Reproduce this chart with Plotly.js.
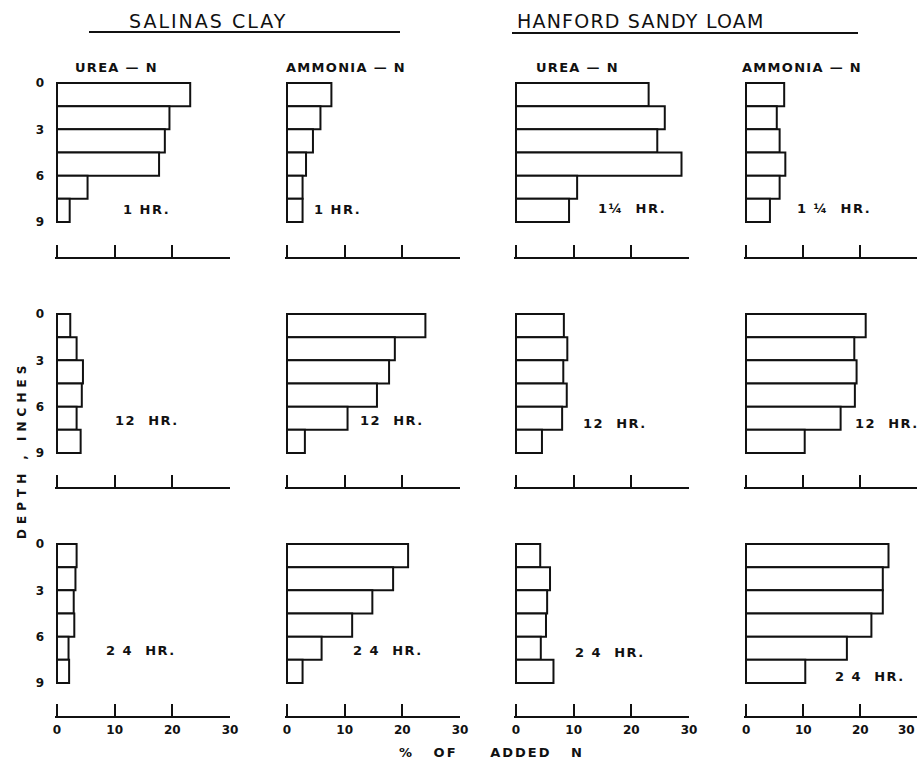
<!DOCTYPE html>
<html><head><meta charset="utf-8">
<script src="https://cdn.plot.ly/plotly-3.0.1.min.js"></script>
<style>html,body{margin:0;padding:0;background:#fff;overflow:hidden}</style>
</head><body><div id="chart" style="width:919px;height:762px"></div>
<script>
// ---- data ----
const depthMid = [0.75, 2.25, 3.75, 5.25, 6.75, 8.25];   // 1.5-inch depth layers, 0-9 in
const depthTicks = [0, 3, 6, 9];
const pctTicks = [0, 10, 20, 30];
const soils = ['SALINAS CLAY', 'HANFORD SANDY LOAM'];
const forms = ['UREA — N', 'AMMONIA — N', 'UREA — N', 'AMMONIA — N'];
const timesRow1 = ['1 HR.', '1 HR.', '1¼  HR.', '1 ¼  HR.'];
const timesRow2 = ['12  HR.', '12  HR.', '12  HR.', '12  HR.'];
const timesRow3 = ['2 4  HR.', '2 4  HR.', '2 4  HR.', '2 4  HR.'];

const salinasUrea1h     = [23.1, 19.5, 18.7, 17.7, 5.3, 2.2];
const salinasAmmonia1h  = [7.7, 5.8, 4.5, 3.3, 2.7, 2.7];
const hanfordUrea1h     = [23.0, 25.8, 24.5, 28.7, 10.6, 9.2];
const hanfordAmmonia1h  = [6.7, 5.4, 5.9, 6.9, 5.9, 4.2];
const salinasUrea12h    = [2.3, 3.4, 4.5, 4.3, 3.4, 4.1];
const salinasAmmonia12h = [24.0, 18.7, 17.7, 15.6, 10.5, 3.1];
const hanfordUrea12h    = [8.3, 8.9, 8.2, 8.8, 8.0, 4.5];
const hanfordAmmonia12h = [21.0, 19.0, 19.4, 19.1, 16.6, 10.3];
const salinasUrea24h    = [3.4, 3.2, 2.9, 3.0, 2.0, 2.1];
const salinasAmmonia24h = [21.0, 18.4, 14.8, 11.3, 6.0, 2.7];
const hanfordUrea24h    = [4.2, 5.9, 5.4, 5.2, 4.3, 6.5];
const hanfordAmmonia24h = [25.0, 24.0, 24.0, 22.0, 17.7, 10.4];

const panels = [
  [salinasUrea1h, salinasAmmonia1h, hanfordUrea1h, hanfordAmmonia1h],
  [salinasUrea12h, salinasAmmonia12h, hanfordUrea12h, hanfordAmmonia12h],
  [salinasUrea24h, salinasAmmonia24h, hanfordUrea24h, hanfordAmmonia24h]
];
const timeLabels = [timesRow1, timesRow2, timesRow3];

// ---- layout geometry (pixels) ----
const W = 919, H = 762;
const colLeft = [57, 287, 516, 746], colRight = [230, 460, 689, 917];
const rowTop = [83, 314, 544], rowNine = [222, 453, 683], rowAxis = [257, 487, 716];
const timePos = [
  [[146, 210], [337, 210], [632, 208], [834, 208]],
  [[147, 420], [392, 420], [615, 423], [887, 423]],
  [[141, 650], [388, 650], [610, 652], [870, 676]]
];
const formPos = [116, 346, 577, 802];

const ink = '#111';
const FONT = 'DejaVu Sans, Liberation Sans, sans-serif';
const TICKFONT = {family: FONT, size: 12, weight: 'bold', color: ink};
const sp = (t, ls) => '<span style="letter-spacing:' + ls + 'px">' + t.replace(/ /g, '\u00a0') + '</span>';

const data = [];
const layout = {
  width: W, height: H,
  margin: {l: 0, r: 0, t: 0, b: 0},
  paper_bgcolor: '#fff', plot_bgcolor: 'rgba(0,0,0,0)',
  showlegend: false,
  font: {family: FONT, color: ink},
  annotations: [], shapes: []
};

for (let r = 0; r < 3; r++) {
  const s = (rowNine[r] - rowTop[r]) / 9;        // px per inch
  for (let c = 0; c < 4; c++) {
    const n = r * 4 + c + 1;
    const xs = 'x' + (n === 1 ? '' : n), ys = 'y' + (n === 1 ? '' : n);
    const pxPerPct = (colRight[c] - colLeft[c]) / 30;
    const padL = 2;
    const lastPanel = (r === 2 && c === 3);
    data.push({
      type: 'bar', orientation: 'h',
      x: panels[r][c], y: depthMid, width: 1.5,
      marker: {color: '#fff', line: {color: ink, width: 2}},
      xaxis: xs, yaxis: ys, hoverinfo: 'skip'
    });
    layout['xaxis' + (n === 1 ? '' : n)] = {
      domain: [(colLeft[c] - padL) / W, colRight[c] / W],
      range: [-padL / pxPerPct, 30], anchor: ys,
      showline: true, linewidth: 2, linecolor: ink,
      ticks: 'inside', ticklen: 12, tickwidth: 2, tickcolor: ink,
      tickvals: pctTicks, showticklabels: r === 2 && !lastPanel,
      tickfont: TICKFONT,
      ticklabelstandoff: 2,
      showgrid: false, zeroline: false, fixedrange: true
    };
    if (lastPanel) {
      // tick labels of the right-most axis, kept inside the page edge
      pctTicks.forEach((v, k) => layout.annotations.push({
        xref: xs, yref: 'paper', x: v, y: 1 - 730 / H,
        xanchor: k === pctTicks.length - 1 ? 'right' : 'center', yanchor: 'middle',
        showarrow: false, text: String(v), font: TICKFONT
      }));
    }
    const padT = 3;
    layout['yaxis' + (n === 1 ? '' : n)] = {
      domain: [1 - rowAxis[r] / H, 1 - (rowTop[r] - padT) / H],
      range: [(rowAxis[r] - rowTop[r]) / s, -padT / s], anchor: xs,
      tickvals: depthTicks, showticklabels: c === 0, ticks: '',
      tickfont: TICKFONT,
      ticklabelstandoff: 10,
      showline: false, showgrid: false, zeroline: false, fixedrange: true
    };
    layout.annotations.push({
      xref: 'paper', yref: 'paper',
      x: timePos[r][c][0] / W, y: 1 - timePos[r][c][1] / H,
      xanchor: 'center', yanchor: 'middle', showarrow: false,
      text: sp(timeLabels[r][c], 1.5),
      font: {family: FONT, size: 13, weight: 'bold', color: ink}
    });
  }
}

// panel column headers
forms.forEach((f, c) => layout.annotations.push({
  xref: 'paper', yref: 'paper', x: formPos[c] / W, y: 1 - 67 / H,
  xanchor: 'center', yanchor: 'middle', showarrow: false,
  text: sp(f, 1.3), font: {family: FONT, size: 13, weight: 'bold', color: ink}
}));

// soil headers
const soilX = [208, 641], soilLS = [2, 1.2];
soils.forEach((t, i) => layout.annotations.push({
  xref: 'paper', yref: 'paper', x: soilX[i] / W, y: 1 - 21 / H,
  xanchor: 'center', yanchor: 'middle', showarrow: false,
  text: sp(t, soilLS[i]), font: {family: FONT, size: 19, color: ink}
}));
const lineSpans = [[89, 400, 32], [512, 858, 33]];
lineSpans.forEach(l => layout.shapes.push({
  type: 'line', xref: 'paper', yref: 'paper',
  x0: l[0] / W, x1: l[1] / W, y0: 1 - l[2] / H, y1: 1 - l[2] / H,
  line: {color: ink, width: 2}
}));

// axis titles
layout.annotations.push({
  xref: 'paper', yref: 'paper', x: 22 / W, y: 1 - 450 / H,
  xanchor: 'center', yanchor: 'middle', showarrow: false, textangle: -90,
  text: sp('DEPTH , INCHES', 5), font: {family: FONT, size: 12, weight: 'bold', color: ink}
});
layout.annotations.push({
  xref: 'paper', yref: 'paper', x: 491 / W, y: 1 - 752 / H,
  xanchor: 'center', yanchor: 'middle', showarrow: false,
  text: sp('%   OF     ADDED   N', 2), font: {family: FONT, size: 13, weight: 'bold', color: ink}
});

Plotly.newPlot('chart', data, layout, {staticPlot: true, displayModeBar: false});
</script>
</body></html>
